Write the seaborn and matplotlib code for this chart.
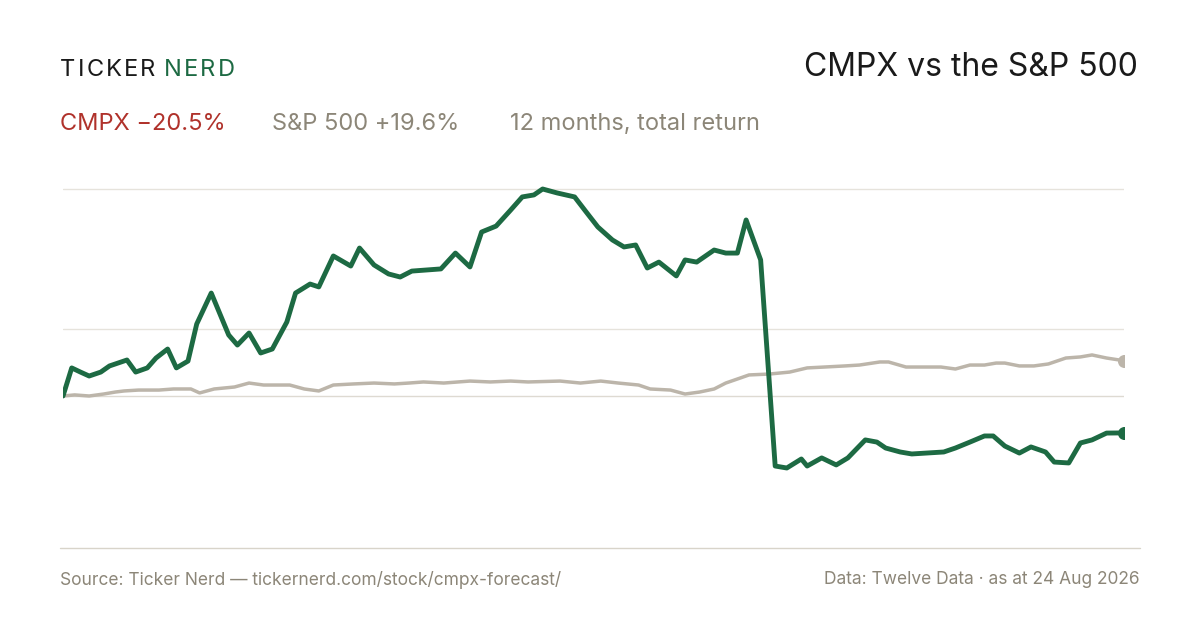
import matplotlib
matplotlib.use("Agg")
import matplotlib.pyplot as plt
import seaborn as sns
import pandas as pd

# --- data: day index and cumulative total return (%) ---
cmpx_day = [0, 3, 6, 9, 13, 16, 20, 22, 25, 29, 32, 36, 39, 43, 46, 51, 57, 60, 64, 68, 72, 77, 80, 85, 88,
            93, 99, 102, 107, 112, 116, 120, 130, 135, 140, 144, 149, 154, 158, 162, 165, 170, 176, 180, 184,
            189, 193, 197, 201, 205, 211, 214, 218, 224, 228, 232, 235, 240, 245, 249, 254, 256, 261, 266, 270,
            276, 280, 283, 288, 292, 297, 303, 307, 312, 317, 320, 324, 329, 333, 338, 341, 346, 350, 354, 359, 365]
cmpx_ret = [0, 15.6, 13.3, 11.1, 13.3, 16.7, 18.9, 20.0, 13.3, 15.6, 21.1, 26.1, 15.6, 19.4, 40.0, 57.2, 33.9,
            28.3, 35.0, 23.9, 26.1, 41.1, 57.2, 62.2, 60.6, 77.8, 72.2, 82.2, 72.8, 67.8, 66.1, 69.4, 70.6, 79.4,
            71.7, 91.1, 94.4, 103.3, 110.6, 111.7, 115.0, 112.8, 110.6, 102.2, 93.9, 86.7, 82.8, 83.9, 71.1, 74.4,
            66.7, 75.6, 74.4, 81.1, 79.4, 79.4, 97.8, 75.6, -38.9, -40.0, -35.0, -38.9, -34.4, -38.3, -34.4, -24.4,
            -25.6, -28.9, -31.1, -32.2, -31.7, -31.1, -28.9, -25.6, -22.2, -22.2, -27.8, -31.7, -28.3, -31.1,
            -36.7, -37.2, -26.1, -24.4, -20.6, -20.5]

spx_day = [0, 4, 9, 14, 18, 21, 26, 33, 38, 44, 47, 52, 59, 64, 69, 78, 83, 88, 93, 100, 107, 114, 119, 124,
           131, 140, 147, 154, 160, 171, 178, 185, 191, 198, 202, 209, 214, 219, 224, 228, 233, 236, 243, 250,
           256, 262, 269, 274, 281, 284, 290, 295, 302, 307, 312, 317, 321, 324, 329, 334, 339, 345, 350, 354, 359, 365]
spx_ret = [0, 0.6, 0, 1.1, 2.2, 2.8, 3.3, 3.3, 3.9, 3.9, 1.7, 3.9, 5.0, 7.2, 6.1, 6.1, 3.9, 2.8, 6.1, 6.7, 7.2,
           6.7, 7.2, 7.8, 7.2, 8.3, 7.8, 8.3, 7.8, 8.3, 7.2, 8.3, 7.2, 6.1, 3.9, 3.3, 1.1, 2.2, 3.9, 7.2, 10.0,
           11.7, 12.2, 13.3, 15.6, 16.1, 16.7, 17.2, 18.9, 18.9, 16.1, 16.1, 16.1, 15.0, 17.2, 17.2, 18.3, 18.3,
           16.7, 16.7, 17.8, 21.1, 21.7, 22.8, 21.1, 19.6]

grid_vals = [37.5, 115]

GREEN = "#1d6a43"
RED = "#b0322b"
GREY_LINE = "#bcb5aa"
MUTED = "#8c8678"
DARK = "#1a1a1a"

sns.set_theme(style="white")
plt.rcParams["font.family"] = ["Inter", "DejaVu Sans"]

fig = plt.figure(figsize=(12, 6.3), dpi=100)
fig.patch.set_facecolor("white")
ax = fig.add_axes([63 / 1200, 1 - 530 / 630, (1124 - 63) / 1200, (530 - 170) / 630])

for g in grid_vals:
    ax.axhline(g, color="#e6e3dc", lw=1, zorder=0)
ax.axhline(0, color="#dedad2", lw=1, zorder=0)

spx = pd.DataFrame({"day": spx_day, "ret": spx_ret})
cmpx = pd.DataFrame({"day": cmpx_day, "ret": cmpx_ret})
sns.lineplot(data=spx, x="day", y="ret", ax=ax, color=GREY_LINE, lw=2.5)
sns.lineplot(data=cmpx, x="day", y="ret", ax=ax, color=GREEN, lw=3.5)
ax.scatter([spx_day[-1]], [spx_ret[-1]], color=GREY_LINE, s=70, zorder=5)
ax.scatter([cmpx_day[-1]], [cmpx_ret[-1]], color=GREEN, s=70, zorder=5)

ax.set_xlim(0, 365)
ax.set_ylim((396 - 530) / 1.8, (396 - 170) / 1.8)
ax.set_xticks([])
ax.set_yticks([])
ax.set_xlabel("")
ax.set_ylabel("")
sns.despine(ax=ax, left=True, bottom=True)

# bottom rule
fig.add_artist(plt.Line2D([60 / 1200, 1140 / 1200], [1 - 548 / 630] * 2, color="#d8d4ca", lw=1))

# brand with letter spacing
renderer = fig.canvas.get_renderer()
x = 60 / 1200
for word, col in [("TICKER", DARK), ("NERD", GREEN)]:
    for ch in word:
        t = fig.text(x, 1 - 70 / 630, ch, color=col, fontsize=17, va="center", ha="left")
        w = t.get_window_extent(renderer).width
        x += (w + 2.2) / 1200
    x += 6 / 1200

fig.text(1138 / 1200, 1 - 67 / 630, "CMPX vs the S&P 500", fontsize=23, color=DARK, ha="right", va="center")
fig.text(60 / 1200, 1 - 124 / 630, "CMPX \u221220.5%", fontsize=17, color=RED, va="center")
fig.text(272 / 1200, 1 - 124 / 630, "S&P 500 +19.6%", fontsize=17, color=MUTED, va="center")
fig.text(510 / 1200, 1 - 124 / 630, "12 months, total return", fontsize=17, color=MUTED, va="center")

fig.text(60 / 1200, 1 - 580 / 630, "Source: Ticker Nerd \u2014 tickernerd.com/stock/cmpx-forecast/",
         fontsize=12.5, color=MUTED, va="center")
fig.text(1140 / 1200, 1 - 580 / 630, "Data: Twelve Data \u00b7 as at 24 Aug 2026",
         fontsize=12.5, color=MUTED, va="center", ha="right")

fig.savefig("out.png", dpi=100, facecolor="white")
